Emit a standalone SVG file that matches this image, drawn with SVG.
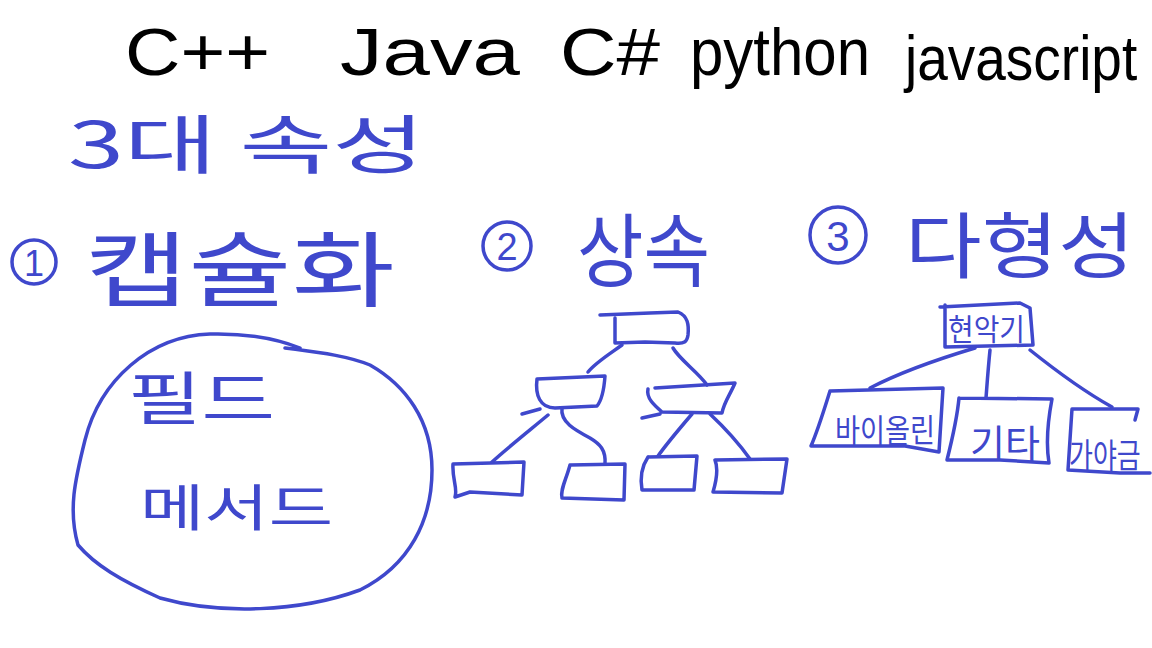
<svg xmlns="http://www.w3.org/2000/svg" width="1152" height="648" viewBox="0 0 1152 648">
<style>
.k{font-family:"Liberation Sans",sans-serif;fill:#000}
.b{font-family:"Noto Sans CJK KR","Noto Sans",sans-serif;fill:#3F48CC}
.n{font-family:"Liberation Sans",sans-serif;fill:#3F48CC}
.s{fill:none;stroke:#3F48CC;stroke-width:3.5;stroke-linecap:round;stroke-linejoin:round}
</style>
<rect width="1152" height="648" fill="#fff"/>
<g id="languages">
<text class="k" x="125" y="75" font-size="66" textLength="145" lengthAdjust="spacingAndGlyphs">C++</text>
<text class="k" x="340" y="75" font-size="66" textLength="180" lengthAdjust="spacingAndGlyphs">Java</text>
<text class="k" x="560" y="75" font-size="66" textLength="100" lengthAdjust="spacingAndGlyphs">C#</text>
<text class="k" x="690" y="75" font-size="66" textLength="180" lengthAdjust="spacingAndGlyphs">python</text>
<text class="k" transform="translate(905,80) scale(1,1.15)" font-size="55">javascript</text>
</g>
<g id="title"><text class="b" x="68" y="168" font-size="64" textLength="357" lengthAdjust="spacingAndGlyphs">3대 속성</text></g>
<g id="encapsulation">
<circle class="s" cx="34" cy="262" r="22"/>
<text class="n" x="34" y="276" font-size="36" text-anchor="middle">1</text>
<text class="b" x="85" y="300" font-size="82" textLength="310" lengthAdjust="spacingAndGlyphs">캡슐화</text>
<path class="s" d="M300,348 C280,340 250,333 210,334 C150,336 100,380 85,440 C75,480 68,510 78,545 C95,565 120,580 160,598 C220,615 300,612 360,590 C410,565 432,520 432,470 C432,420 405,385 370,365 C345,355 315,352 285,348"/>
<text class="b" x="128" y="420" font-size="58" textLength="147" lengthAdjust="spacingAndGlyphs">필드</text>
<text class="b" x="140" y="526" font-size="50" textLength="193" lengthAdjust="spacingAndGlyphs">메서드</text>
</g>
<g id="inheritance">
<circle class="s" cx="507" cy="246" r="24"/>
<text class="n" x="507" y="260" font-size="38" text-anchor="middle">2</text>
<text class="b" x="577" y="280" font-size="80" textLength="133" lengthAdjust="spacingAndGlyphs">상속</text>
</g>
<g id="polymorphism">
<circle class="s" cx="838" cy="235" r="28"/>
<text class="n" x="838" y="251" font-size="42" text-anchor="middle">3</text>
<text class="b" x="905" y="272" font-size="72" textLength="230" lengthAdjust="spacingAndGlyphs">다형성</text>
</g>
<g id="tree-root"><path class="s" d="M600,315 L650,313 L678,312 C688,316 689,325 688,335 C687,342 684,344 675,343 L645,342 L615,343 L615,318"/></g>
<g id="tree-left"><path class="s" d="M537,379 L605,376 C604,390 602,400 597,406 L555,408 C540,408 535,395 537,379 M540,409 L522,414"/></g>
<g id="tree-right"><path class="s" d="M655,388 L735,383 C730,395 724,402 722,413 L662,412 C654,405 646,398 648,389 M660,414 L642,418"/></g>
<g id="tree-leaf1"><path class="s" d="M453,464 L524,462 L522,495 L470,492 L455,497 C458,488 452,480 453,464"/></g>
<g id="tree-leaf2"><path class="s" d="M570,465 L625,464 L624,500 L562,498 C560,490 566,480 570,465"/></g>
<g id="tree-leaf3"><path class="s" d="M648,457 L697,456 L694,490 L642,490 C640,478 642,466 648,457"/></g>
<g id="tree-leaf4"><path class="s" d="M715,460 L787,459 L782,493 L713,492 C716,482 719,470 715,460"/></g>
<g id="poly-parent">
<path class="s" d="M940,307 L1020,303 L1030,308 L1033,345 L945,347 L945,305"/>
<text class="b" x="948" y="340" font-size="30" textLength="77" lengthAdjust="spacingAndGlyphs">현악기</text>
</g>
<g id="poly-child1">
<path class="s" d="M830,391 L943,388 L939,452 L905,446 L811,446 C818,430 824,410 830,391"/>
<text class="b" x="835" y="442" font-size="32" textLength="100" lengthAdjust="spacingAndGlyphs">바이올린</text>
</g>
<g id="poly-child2">
<path class="s" d="M959,398 L1052,399 C1048,420 1046,445 1049,463 L1000,460 L947,460 C952,440 957,420 959,398"/>
<text class="b" x="970" y="457" font-size="38" textLength="70" lengthAdjust="spacingAndGlyphs">기타</text>
</g>
<g id="poly-child3">
<path class="s" d="M1072,409 L1138,409 L1135,420 M1072,409 L1068,470 L1120,473 L1150,473"/>
<text class="b" transform="translate(1069,468) scale(1,1.3)" font-size="26">가야금</text>
</g>
<g id="connectors">
<path class="s" d="M622,345 C608,355 595,363 588,372"/>
<path class="s" d="M673,348 C680,360 698,372 707,385"/>
<path class="s" d="M548,415 C530,430 505,450 492,462"/>
<path class="s" d="M562,408 C560,422 575,430 590,438 C600,444 606,450 605,464"/>
<path class="s" d="M692,414 C680,428 668,442 658,456"/>
<path class="s" d="M710,414 C725,428 740,445 750,459"/>
<path class="s" d="M975,348 C935,360 895,375 870,388"/>
<path class="s" d="M990,350 C988,370 987,385 986,398"/>
<path class="s" d="M1030,350 C1055,370 1085,392 1112,407"/>
</g>
</svg>
